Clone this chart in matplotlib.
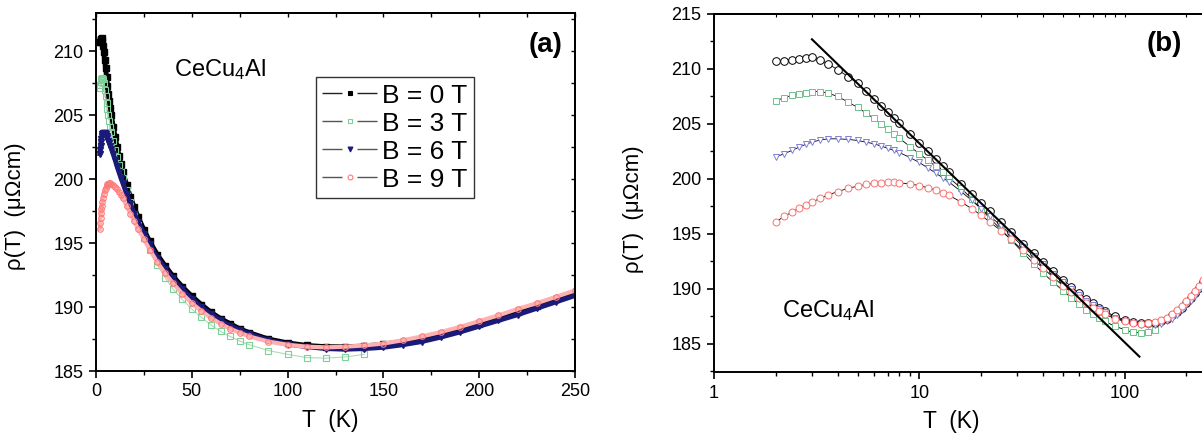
import matplotlib
matplotlib.use("Agg")
import matplotlib.pyplot as plt
from matplotlib.lines import Line2D
from matplotlib.ticker import MultipleLocator, LogLocator, NullFormatter

plt.rcParams['font.family'] = ['Liberation Sans', 'DejaVu Sans']
plt.rcParams['mathtext.fontset'] = 'custom'
plt.rcParams['mathtext.rm'] = 'Liberation Sans'
plt.rcParams['mathtext.default'] = 'regular'

# temperature grid (K)
temps = [2.0, 2.2, 2.4, 2.6, 2.8, 3.0, 3.3, 3.6, 4.0, 4.5, 5.0, 5.5, 6.0, 6.5,
         7.0, 7.5, 8.0, 9.0, 10, 11, 12, 13, 14, 16, 18, 20, 22, 25, 28, 32,
         36, 40, 45, 50, 55, 60, 65, 70, 75, 80, 90, 100, 110, 120, 130, 140,
         150, 160, 170, 180, 190, 200, 210, 220, 230, 240, 250]

# resistivity (micro-ohm cm)
rho_0T = [210.7, 210.75, 210.85, 210.95, 211.0, 211.05, 210.8, 210.45, 209.95,
          209.3, 208.7, 208.0, 207.3, 206.65, 206.1, 205.55, 205.05, 204.1,
          203.3, 202.55, 201.85, 201.2, 200.6, 199.55, 198.6, 197.8, 197.05,
          196.05, 195.15, 194.1, 193.25, 192.45, 191.6, 190.85, 190.2, 189.6,
          189.1, 188.7, 188.3, 188.0, 187.5, 187.2, 187.0, 186.9, 186.9,
          186.95, 187.1, 187.3, 187.6, 187.9, 188.3, 188.7, 189.15, 189.6,
          190.1, 190.6, 191.1]
rho_3T = [207.1, 207.4, 207.6, 207.75, 207.85, 207.95, 207.95, 207.8, 207.5,
          207.0, 206.5, 206.0, 205.5, 205.0, 204.55, 204.1, 203.7, 202.95,
          202.3, 201.7, 201.15, 200.6, 200.1, 199.15, 198.2, 197.25, 196.45,
          195.4, 194.45, 193.3, 192.3, 191.45, 190.6, 189.85, 189.2, 188.6,
          188.1, 187.7, 187.35, 187.05, 186.6, 186.3, 186.05, 186.0, 186.1,
          186.3]
rho_6T = [202.0, 202.3, 202.6, 202.9, 203.15, 203.35, 203.55, 203.65, 203.65,
          203.6, 203.5, 203.35, 203.2, 203.0, 202.8, 202.6, 202.4, 201.95,
          201.5, 201.0, 200.55, 200.1, 199.7, 198.85, 198.05, 197.3, 196.65,
          195.75, 194.9, 193.85, 193.0, 192.25, 191.4, 190.65, 190.0, 189.45,
          188.95, 188.55, 188.2, 187.9, 187.4, 187.1, 186.9, 186.75, 186.7,
          186.75, 186.85, 187.05, 187.3, 187.65, 188.05, 188.5, 188.95, 189.4,
          189.9, 190.4, 190.9]
rho_9T = [196.1, 196.6, 197.0, 197.35, 197.65, 197.9, 198.25, 198.55, 198.85,
          199.15, 199.35, 199.5, 199.6, 199.65, 199.7, 199.7, 199.65, 199.55,
          199.4, 199.2, 199.0, 198.75, 198.5, 197.9, 197.3, 196.7, 196.1,
          195.3, 194.5, 193.5, 192.65, 191.9, 191.05, 190.3, 189.7, 189.15,
          188.7, 188.3, 188.0, 187.7, 187.3, 187.05, 186.9, 186.85, 186.9,
          187.0, 187.15, 187.4, 187.7, 188.05, 188.45, 188.9, 189.35, 189.85,
          190.3, 190.8, 191.3]

# -lnT fit line in panel (b)
fit_T = [3.0, 118.0]
fit_rho = [212.7, 183.85]

labels = ['B = 0 T', 'B = 3 T', 'B = 6 T', 'B = 9 T']
series = [rho_0T, rho_3T, rho_6T, rho_9T]

# panel (a) styles
style_a = [
    dict(marker='s', ms=4, mfc='k', mec='k', color='k', lw=3.5),
    dict(marker='s', ms=4, mfc='none', mec='#7fcf98', mew=0.8, color='#a8ddb8', lw=0.8),
    dict(marker='v', ms=4, mfc='#1a1a7a', mec='#1a1a7a', color='#1a1a7a', lw=3.5),
    dict(marker='o', ms=4, mfc='none', mec='#ff7a7a', mew=0.8, color='#ffb0b0', lw=3.0),
]
# panel (b) styles
style_b = [
    dict(marker='o', ms=5.5, mec='k', mew=0.7),
    dict(marker='s', ms=4.5, mec='#6cc28a', mew=0.7),
    dict(marker='v', ms=5, mec='#8080d8', mew=0.7),
    dict(marker='o', ms=5, mec='#ff6e6e', mew=0.7),
]

W, H = 1202, 437
fig = plt.figure(figsize=(W / 100, H / 100), dpi=100)
ax1 = fig.add_axes([96 / W, 66 / H, 479 / W, 358 / H])
ax2 = fig.add_axes([714 / W, 65 / H, 508.6 / W, 358 / H])

# ---------- panel (a) ----------
for rho, st in zip(series, style_a):
    ax1.plot(temps[:len(rho)], rho, **st)

ax1.set_xlim(0, 250)
ax1.set_ylim(185, 213)
ax1.xaxis.set_major_locator(MultipleLocator(50))
ax1.xaxis.set_minor_locator(MultipleLocator(25))
ax1.yaxis.set_major_locator(MultipleLocator(5))
ax1.yaxis.set_minor_locator(MultipleLocator(2.5))

top_a = ax1.secondary_xaxis('top')
top_a.xaxis.set_major_locator(MultipleLocator(25))
top_a.xaxis.set_major_formatter(NullFormatter())
top_a.tick_params(direction='in', length=3, width=1)
right_a = ax1.secondary_yaxis('right')
right_a.yaxis.set_major_locator(MultipleLocator(2.5))
right_a.yaxis.set_major_formatter(NullFormatter())
right_a.tick_params(direction='in', length=3, width=1)

ax1.set_xlabel('T  (K)', fontsize=16.5)
ax1.set_ylabel('ρ(T)  (μΩcm)', fontsize=16)
ax1.xaxis.set_label_coords(0.488, -0.105)
ax1.yaxis.set_label_coords(-0.147, 0.46)
ax1.text(0.163, 0.824, 'CeCu$_4$Al', transform=ax1.transAxes, fontsize=17,
         va='baseline')
ax1.text(0.973, 0.911, '(a)', transform=ax1.transAxes, fontsize=20,
         fontweight='bold', ha='right', va='center')

handles = []
lcols = ['#222222', '#555555', '#555555', '#555555']
for st, lc in zip(style_a, lcols):
    handles.append(Line2D([], [], color=lc, lw=1.0, linestyle=(0, (14.4, 10.8)),
                          marker=st['marker'], ms=3.5, mfc=st['mfc'],
                          mec=st['mec'], mew=0.8))
leg = ax1.legend(handles, labels, loc='upper left', bbox_to_anchor=(0.459, 0.821),
                 fontsize=19, frameon=True, fancybox=False, edgecolor='k',
                 handlelength=2.1, handletextpad=0.15, borderpad=0.25,
                 labelspacing=0.15, borderaxespad=0)
leg.get_frame().set_linewidth(1.0)

# ---------- panel (b) ----------
for rho, st in zip(series, style_b):
    tt = temps[:len(rho)]
    ax2.plot(tt, rho, color='k', lw=0.6, zorder=2)
    ax2.plot(tt, rho, ls='none', mfc='white', zorder=3, **st)
ax2.plot(fit_T, fit_rho, color='k', lw=1.5, zorder=5)

ax2.set_xscale('log')
ax2.set_xlim(1, 300)
ax2.set_ylim(182.45, 215)
ax2.set_xticks([1, 10, 100], ['1', '10', '100'])
ax2.xaxis.set_minor_locator(LogLocator(subs=range(2, 10)))
ax2.xaxis.set_minor_formatter(NullFormatter())
ax2.yaxis.set_major_locator(MultipleLocator(5))
ax2.yaxis.set_minor_locator(MultipleLocator(2.5))
ax2.spines['right'].set_visible(False)

top_b = ax2.secondary_xaxis('top')
top_b.xaxis.set_major_formatter(NullFormatter())
top_b.xaxis.set_minor_formatter(NullFormatter())
top_b.tick_params(which='both', direction='in', length=2, width=0.8)

ax2.set_xlabel('T  (K)', fontsize=16.5)
ax2.set_ylabel('ρ(T)  (μΩcm)', fontsize=16)
ax2.xaxis.set_label_coords(0.466, -0.105)
ax2.yaxis.set_label_coords(-0.137, 0.455)
ax2.text(0.134, 0.154, 'CeCu$_4$Al', transform=ax2.transAxes, fontsize=17,
         va='baseline')
ax2.text(0.920, 0.916, '(b)', transform=ax2.transAxes, fontsize=20,
         fontweight='bold', ha='right', va='center')

for ax in (ax1, ax2):
    ax.tick_params(which='major', direction='out', length=5, width=1.2,
                   labelsize=13, pad=4)
    ax.tick_params(which='minor', direction='out', length=3, width=1.0)
    for sp in ax.spines.values():
        sp.set_linewidth(1.4)
for sec in (top_a, right_a, top_b):
    for sp in sec.spines.values():
        sp.set_linewidth(1.4)

fig.savefig('out.png', dpi=100)
